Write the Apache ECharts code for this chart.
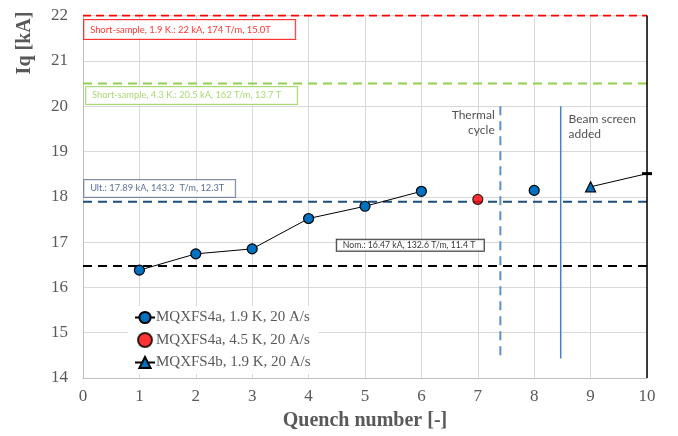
<!DOCTYPE html>
<html><head><meta charset="utf-8">
<script src="https://cdn.jsdelivr.net/npm/echarts@6/dist/echarts.min.js"></script>
<style>html,body{margin:0;padding:0;background:#fff}#c{width:678px;height:436px}</style>
</head><body><div id="c"></div>
<script>
// ---- data ----
const xTicks = [0,1,2,3,4,5,6,7,8,9,10];
const s1Quench = [1,2,3,4,5,6,7,8];
const s1Iq = [16.38,16.74,16.85,17.52,17.79,18.12,null,18.14];
const s2Quench = [7];
const s2Iq = [17.94];
const s3Quench = [9,10];
const s3Iq = [18.22,18.51];
const refLevels = [22, 20.5, 17.89, 16.47];
const refLabels = [
  'Short-sample, 1.9 K.: 22 kA, 174 T/m, 15.0T',
  'Short-sample, 4.3 K.: 20.5 kA, 162 T/m, 13.7 T',
  'Ult.: 17.89 kA, 143.2  T/m, 12.3T',
  'Nom.: 16.47 kA, 132.6 T/m, 11.4 T'
];
const eventX = [7.4, 8.47];
const eventLabels = ['Thermal\ncycle', 'Beam screen\nadded'];
const seriesNames = ['MQXFS4a, 1.9 K, 20 A/s','MQXFS4a, 4.5 K, 20 A/s','MQXFS4b, 1.9 K, 20 A/s'];

const serif = 'Liberation Serif';
const sans = 'Lato';
const gray = '#595959';

function refLine(y, color, width, type){
  return {type:'line', data:[[0,y],[10,y]], symbol:'none', silent:true, z:1,
    lineStyle:{color:color, width:width, type:type}};
}
function vLine(x, y0, y1, color, width, type){
  return {type:'line', data:[[x,y0],[x,y1]], symbol:'none', silent:true, z:1,
    lineStyle:{color:color, width:width, type:type}};
}
function boxLabel(x, y, text, color, border, w, h, fs){
  return {type:'scatter', symbol:'circle', symbolSize:0, silent:true, z:5,
    itemStyle:{color:'rgba(0,0,0,0)'},
    data:[[x,y]],
    label:{show:true, position:'right', distance:0, formatter:text,
      color:color, fontFamily:sans, fontSize:fs, borderColor:border, borderWidth:1,
      backgroundColor:'#fff', padding:[0,0,0,6], width:w, height:h, lineHeight:h,
      align:'left', verticalAlign:'middle', overflow:'none'}};
}
function textLabel(x, y, text, pos){
  return {type:'scatter', symbol:'circle', symbolSize:0, silent:true, z:5,
    itemStyle:{color:'rgba(0,0,0,0)'},
    data:[[x,y]],
    label:{show:true, position:pos, distance:0, formatter:text, align:pos==='left'?'right':'left',
      fontFamily:sans, fontSize:12, lineHeight:15, color:'#262626'}};
}

const chart = echarts.init(document.getElementById('c'), null, {renderer:'canvas'});
chart.setOption({
  animation:false,
  grid:{left:83, right:31, top:15.5, bottom:54},
  xAxis:{type:'value', min:0, max:10, interval:1,
    name:'Quench number [-]', nameLocation:'middle', nameGap:33,
    nameTextStyle:{fontFamily:serif, fontWeight:'bold', fontSize:20, color:gray},
    axisLine:{show:true, lineStyle:{color:'#bfbfbf', width:1}},
    axisTick:{show:false},
    axisLabel:{fontFamily:serif, fontSize:17, color:gray, margin:10,
      formatter:v=>xTicks.includes(v)?String(v):''},
    splitLine:{show:true, lineStyle:{color:'#d9d9d9', width:1}}},
  yAxis:{type:'value', min:14, max:22, interval:1,
    axisLine:{show:true, lineStyle:{color:'#bfbfbf', width:1}},
    axisTick:{show:false},
    axisLabel:{fontFamily:serif, fontSize:17, color:gray, margin:15},
    splitLine:{show:true, lineStyle:{color:'#d9d9d9', width:1}}},
  graphic:[{type:'text', x:25, y:43, rotation:Math.PI/2,
    style:{text:'Iq [kA]', fontFamily:serif, fontWeight:'bold', fontSize:20, fill:gray,
      textAlign:'center', textVerticalAlign:'middle'}}],
  legend:{data:seriesNames, orient:'vertical', left:128, top:306, itemGap:7,
    itemWidth:20, itemHeight:14, backgroundColor:'#fff', padding:[4,8,4,6],
    textStyle:{fontFamily:serif, fontSize:15, color:gray, padding:[0,0,0,-4]}},
  series:[
    refLine(refLevels[0], '#ff0000', 2, [8,5]),
    refLine(refLevels[1], '#92d050', 2, [9,6]),
    refLine(refLevels[2], '#1f4e79', 2, [9,6]),
    refLine(refLevels[3], '#000000', 2, [9,6]),
    vLine(10, 14, 22, '#000', 1.5, 'solid'),
    vLine(eventX[0], 20, 14.45, '#5b8fd0', 2, [9,6]),
    vLine(eventX[1], 20, 14.43, '#4a7fc8', 1.5, 'solid'),
    boxLabel(0.02, 21.69, refLabels[0], '#ff0000', '#ff0000', 205, 19, 9.4),
    boxLabel(0.055, 20.236, refLabels[1], '#92d050', '#92d050', 205, 17, 9.3),
    boxLabel(0.02, 18.183, refLabels[2], '#2e4d7b', '#5b6f8f', 145, 17, 9.3),
    boxLabel(4.50, 16.93, refLabels[3], '#000', '#000', 141, 11, 8.7),
    textLabel(7.3, 19.646, eventLabels[0], 'left'),
    textLabel(8.61, 19.54, eventLabels[1], 'right'),
    {name:seriesNames[0], type:'line', z:10, connectNulls:false,
      data:s1Quench.map((q,i)=>[q, s1Iq[i]===null?'-':s1Iq[i]]),
      symbol:'circle', symbolSize:10, showAllSymbol:true,
      lineStyle:{color:'#000', width:1},
      itemStyle:{color:'#0070c0', borderColor:'#000', borderWidth:1.2}},
    {name:seriesNames[1], type:'scatter', z:10,
      data:s2Quench.map((q,i)=>[q, s2Iq[i]]),
      symbol:'circle', symbolSize:10,
      itemStyle:{color:'#ff0000', borderColor:'#000', borderWidth:1.2}},
    {name:seriesNames[2], type:'line', z:10,
      data:s3Quench.map((q,i)=> i===1
        ? {value:[q, s3Iq[i]], symbol:'rect', symbolSize:[10,3], itemStyle:{color:'#000', borderWidth:0}}
        : {value:[q, s3Iq[i]]}),
      symbol:'triangle', symbolSize:10, showAllSymbol:true,
      lineStyle:{color:'#000', width:1},
      itemStyle:{color:'#0070c0', borderColor:'#000', borderWidth:1.2}}
  ]
});
</script></body></html>
